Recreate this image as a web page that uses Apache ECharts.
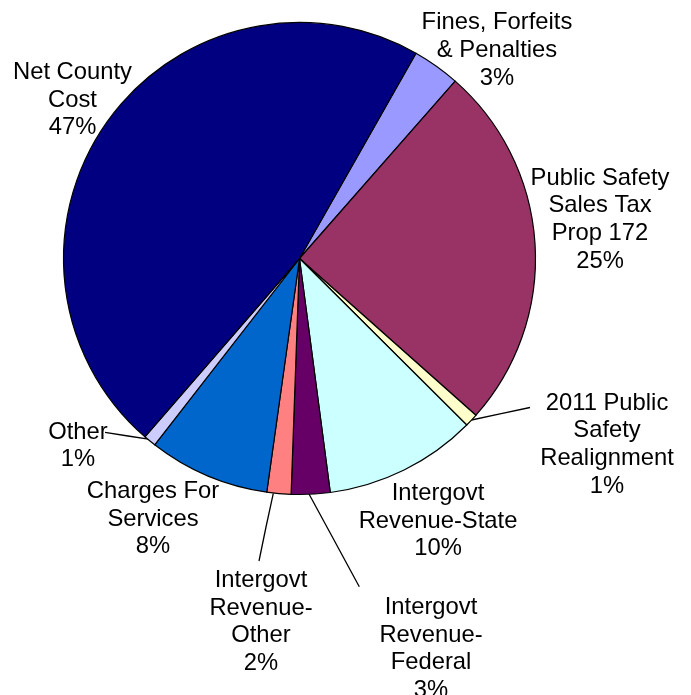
<!DOCTYPE html>
<html>
<head>
<meta charset="utf-8">
<script src="https://cdn.jsdelivr.net/npm/echarts@6/dist/echarts.min.js"></script>
<style>
  html, body { margin: 0; padding: 0; background: #ffffff; }
  #chart { width: 691px; height: 695px; }
</style>
</head>
<body>
<div id="chart"></div>
<script>
// Revenue sources, listed clockwise starting after Net County Cost.
// Line breaks in the names are where the labels wrap.
const categories = [
  'Fines, Forfeits\n& Penalties',
  'Public Safety\nSales Tax\nProp 172',
  '2011 Public\nSafety\nRealignment',
  'Intergovt\nRevenue-State',
  'Intergovt\nRevenue-\nFederal',
  'Intergovt\nRevenue-\nOther',
  'Charges For\nServices',
  'Other',
  'Net County\nCost'
];

// Share of total funding, in percent.
const shares = [3.25, 25.1, 0.9, 10.45, 2.65, 1.65, 8.3, 0.85, 46.85];

const sliceColors = [
  '#9999FF', '#993366', '#FFFFCC', '#CCFFFF', '#660066',
  '#FF8080', '#0066CC', '#CCCCFF', '#000080'
];

// Where each label block sits (centre, px) and, for the small slices,
// the leader line running from the label to the slice edge.
const labelPlacement = [
  { x: 497,   y: 50.5 },
  { x: 600,   y: 219.5 },
  { x: 607,   y: 444.5, line: [[530, 407.5], [500, 413.8], [471.5, 420]] },
  { x: 438,   y: 521 },
  { x: 431,   y: 649,   line: [[359.3, 586.7], [334, 540], [309, 494]] },
  { x: 261,   y: 622,   line: [[259, 561], [266, 527], [273.3, 493.3]] },
  { x: 153,   y: 519 },
  { x: 78,    y: 446,   line: [[105, 432.3], [128, 436], [150, 439.3]] },
  { x: 72.5,  y: 100 }
];

const chart = echarts.init(document.getElementById('chart'), null, { renderer: 'canvas' });

const pieData = categories.map((name, i) => ({
  name: name,
  value: shares[i],
  itemStyle: { color: sliceColors[i] },
  labelLine: { show: !!labelPlacement[i].line }
}));

chart.setOption({
  backgroundColor: '#ffffff',
  animation: false,
  series: [{
    type: 'pie',
    center: [299.5, 258.5],
    radius: [0, 236],
    startAngle: 60.42,
    clockwise: true,
    avoidLabelOverlap: false,
    silent: true,
    data: pieData,
    itemStyle: { borderColor: '#000000', borderWidth: 1.2 },
    label: {
      show: true,
      position: 'outside',
      color: '#000000',
      fontFamily: '"Liberation Sans", Arial, sans-serif',
      fontSize: 23.8,
      lineHeight: 27.7,
      align: 'center',
      formatter: p => p.name + '\n' + Math.round(p.percent) + '%'
    },
    labelLine: {
      show: true,
      smooth: false,
      lineStyle: { color: '#000000', width: 1.3 }
    },
    labelLayout: params => {
      const pos = labelPlacement[params.dataIndex];
      const out = { x: pos.x, y: pos.y, align: 'center', verticalAlign: 'middle' };
      if (pos.line) out.labelLinePoints = pos.line;
      return out;
    },
    emphasis: { disabled: true }
  }]
});
</script>
</body>
</html>
